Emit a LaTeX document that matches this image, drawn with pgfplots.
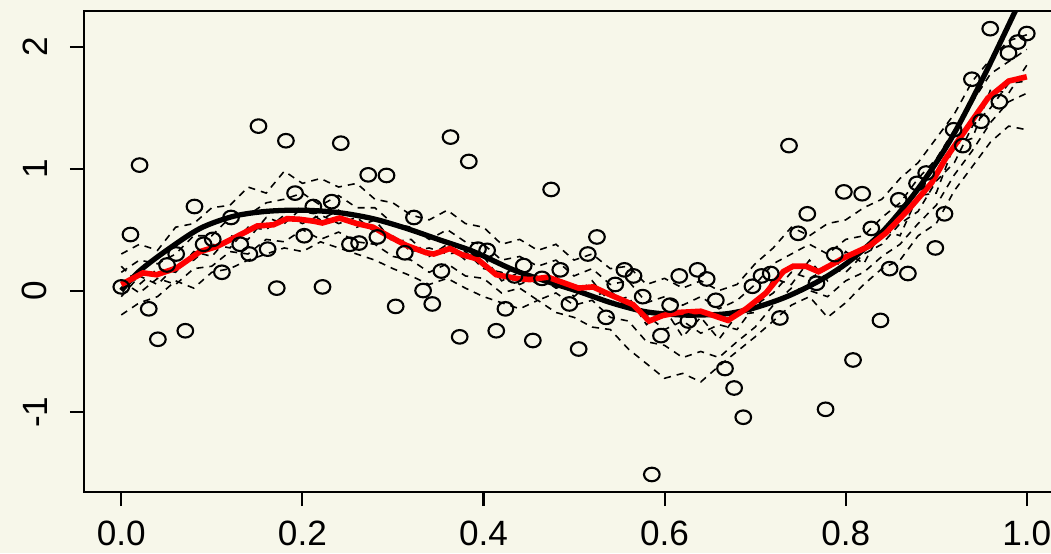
\documentclass[border=0pt]{standalone}
\usepackage{fontspec}
\setmainfont{Liberation Sans}
\usepackage{pgfplots}
\pgfplotsset{compat=1.18}
\definecolor{bgc}{RGB}{247,247,234}
\definecolor{rred}{RGB}{255,0,0}

\begin{document}
\begin{tikzpicture}
\useasboundingbox (0,0) rectangle (105.1mm,55.3mm);
\fill[bgc] (0,0) rectangle (105.1mm,55.3mm);
\begin{axis}[
    at={(8.4mm,6.1mm)}, anchor=south west,
    scale only axis,
    width=97.9mm, height=48.1mm,
    xmin=-0.0412, xmax=1.04,
    ymin=-1.654, ymax=2.295,
    axis line style={line width=0.6pt},
    tick align=outside, tick pos=left,
    major tick length=1.4mm,
    every tick/.style={black, line width=0.6pt},
    xtick={0,0.2,0.4,0.6,0.8,1.0},
    ytick={-1,0,1,2},
    /pgf/number format/assume math mode=true,
    tick label style={font=\fontsize{10}{12}\selectfont},
    xticklabel style={/pgf/number format/.cd, fixed, fixed zerofill, precision=1},
    xticklabel shift=0.3mm,
    yticklabel style={rotate=90, anchor=south, inner sep=0pt},
    yticklabel shift=2.2mm,
    dashline/.style={black, line width=0.45pt, dash pattern=on 2pt off 1.7pt},
]
% bootstrap-like dashed curves
\addplot[dashline] table {
0.00 0.30
0.02 0.38
0.04 0.33
0.06 0.52
0.08 0.55
0.10 0.68
0.12 0.70
0.14 0.85
0.16 0.80
0.18 0.98
0.20 0.88
0.22 0.92
0.24 0.85
0.26 0.88
0.28 0.75
0.30 0.72
0.32 0.62
0.34 0.58
0.36 0.66
0.38 0.55
0.40 0.52
0.42 0.38
0.44 0.42
0.46 0.33
0.48 0.38
0.50 0.25
0.52 0.30
0.54 0.18
0.56 0.20
0.58 0.05
0.60 0.10
0.62 0.02
0.64 0.08
0.66 0.00
0.68 0.05
0.70 0.22
0.72 0.35
0.74 0.52
0.76 0.45
0.78 0.55
0.80 0.58
0.82 0.68
0.84 0.75
0.86 0.92
0.88 1.05
0.90 1.25
0.92 1.45
0.94 1.72
0.96 1.90
0.98 2.05
1.00 2.10
};
\addplot[dashline] table {
0.00 0.15
0.02 0.25
0.04 0.22
0.06 0.30
0.08 0.45
0.10 0.45
0.12 0.60
0.14 0.62
0.16 0.72
0.18 0.75
0.20 0.80
0.22 0.70
0.24 0.78
0.26 0.68
0.28 0.68
0.30 0.55
0.32 0.52
0.34 0.42
0.36 0.50
0.38 0.40
0.40 0.38
0.42 0.25
0.44 0.28
0.46 0.20
0.48 0.25
0.50 0.12
0.52 0.18
0.54 0.05
0.56 0.08
0.58 -0.10
0.60 -0.05
0.62 -0.12
0.64 -0.05
0.66 -0.15
0.68 -0.08
0.70 0.05
0.72 0.22
0.74 0.30
0.76 0.38
0.78 0.30
0.80 0.42
0.82 0.45
0.84 0.60
0.86 0.72
0.88 0.92
0.90 1.08
0.92 1.32
0.94 1.55
0.96 1.78
0.98 1.88
1.00 1.98
};
\addplot[dashline] table {
0.00 -0.05
0.02 0.12
0.04 0.05
0.06 0.20
0.08 0.25
0.10 0.38
0.12 0.35
0.14 0.52
0.16 0.50
0.18 0.62
0.20 0.55
0.22 0.62
0.24 0.55
0.26 0.60
0.28 0.48
0.30 0.45
0.32 0.32
0.34 0.35
0.36 0.30
0.38 0.32
0.40 0.18
0.42 0.15
0.44 0.05
0.46 0.12
0.48 0.02
0.50 0.05
0.52 -0.05
0.54 0.00
0.56 -0.15
0.58 -0.20
0.60 -0.32
0.62 -0.25
0.64 -0.35
0.66 -0.28
0.68 -0.32
0.70 -0.12
0.72 -0.02
0.74 0.15
0.76 0.10
0.78 0.18
0.80 0.15
0.82 0.30
0.84 0.38
0.86 0.55
0.88 0.65
0.90 0.90
0.92 1.05
0.94 1.35
0.96 1.50
0.98 1.70
1.00 1.72
};
\addplot[dashline] table {
0.00 0.08
0.02 -0.02
0.04 0.10
0.06 0.05
0.08 0.18
0.10 0.20
0.12 0.32
0.14 0.30
0.16 0.42
0.18 0.40
0.20 0.50
0.22 0.42
0.24 0.48
0.26 0.40
0.28 0.38
0.30 0.28
0.32 0.25
0.34 0.15
0.36 0.22
0.38 0.12
0.40 0.10
0.42 -0.02
0.44 0.02
0.46 -0.08
0.48 -0.02
0.50 -0.12
0.52 -0.08
0.54 -0.22
0.56 -0.25
0.58 -0.42
0.60 -0.45
0.62 -0.55
0.64 -0.50
0.66 -0.55
0.68 -0.42
0.70 -0.30
0.72 -0.12
0.74 0.02
0.76 0.00
0.78 -0.05
0.80 0.08
0.82 0.15
0.84 0.28
0.86 0.38
0.88 0.55
0.90 0.70
0.92 0.95
0.94 1.15
0.96 1.38
0.98 1.55
1.00 1.62
};
\addplot[dashline] table {
0.00 -0.20
0.02 -0.10
0.04 -0.05
0.06 0.08
0.08 0.02
0.10 0.15
0.12 0.18
0.14 0.25
0.16 0.30
0.18 0.35
0.20 0.32
0.22 0.40
0.24 0.35
0.26 0.30
0.28 0.25
0.30 0.18
0.32 0.12
0.34 0.05
0.36 0.10
0.38 0.02
0.40 -0.05
0.42 -0.10
0.44 -0.15
0.46 -0.08
0.48 -0.18
0.50 -0.22
0.52 -0.30
0.54 -0.32
0.56 -0.48
0.58 -0.60
0.60 -0.72
0.62 -0.68
0.64 -0.75
0.66 -0.62
0.68 -0.50
0.70 -0.38
0.72 -0.25
0.74 -0.12
0.76 -0.05
0.78 -0.22
0.80 -0.10
0.82 0.05
0.84 0.18
0.86 0.25
0.88 0.45
0.90 0.55
0.92 0.82
0.94 1.02
0.96 1.22
0.98 1.35
1.00 1.32
};
\addplot[dashline] table {
0.00 0.20
0.02 0.05
0.04 0.18
0.06 0.15
0.08 0.32
0.10 0.28
0.12 0.45
0.14 0.42
0.16 0.60
0.18 0.55
0.20 0.68
0.22 0.58
0.24 0.66
0.26 0.52
0.28 0.58
0.30 0.40
0.32 0.42
0.34 0.28
0.36 0.38
0.38 0.25
0.40 0.28
0.42 0.08
0.44 0.15
0.46 0.05
0.48 0.12
0.50 -0.05
0.52 0.08
0.54 -0.10
0.56 -0.05
0.58 -0.28
0.60 -0.15
0.62 -0.38
0.64 -0.22
0.66 -0.40
0.68 -0.20
0.70 -0.18
0.72 0.10
0.74 0.05
0.76 0.25
0.78 0.08
0.80 0.32
0.82 0.22
0.84 0.50
0.86 0.45
0.88 0.78
0.90 0.80
0.92 1.20
0.94 1.25
0.96 1.65
0.98 1.62
1.00 1.85
};
% observations
\addplot[only marks, mark=o, mark size=0.68mm, mark options={line width=0.6pt, xscale=1.15}] table {
0.0000 0.03
0.0101 0.46
0.0202 1.03
0.0303 -0.15
0.0404 -0.40
0.0505 0.21
0.0606 0.30
0.0707 -0.33
0.0808 0.69
0.0909 0.38
0.1010 0.42
0.1111 0.15
0.1212 0.60
0.1313 0.38
0.1414 0.30
0.1515 1.35
0.1616 0.34
0.1717 0.02
0.1818 1.23
0.1919 0.80
0.2020 0.45
0.2121 0.69
0.2222 0.03
0.2323 0.73
0.2424 1.21
0.2525 0.38
0.2626 0.39
0.2727 0.95
0.2828 0.44
0.2929 0.945
0.3030 -0.13
0.3131 0.31
0.3232 0.60
0.3333 0.00
0.3434 -0.11
0.3535 0.16
0.3636 1.26
0.3737 -0.38
0.3838 1.06
0.3939 0.34
0.4040 0.33
0.4141 -0.33
0.4242 -0.15
0.4343 0.12
0.4444 0.205
0.4545 -0.41
0.4646 0.10
0.4747 0.83
0.4848 0.17
0.4949 -0.11
0.5051 -0.48
0.5152 0.30
0.5253 0.44
0.5354 -0.22
0.5455 0.05
0.5556 0.17
0.5657 0.12
0.5758 -0.05
0.5859 -1.51
0.5960 -0.37
0.6061 -0.12
0.6162 0.12
0.6263 -0.25
0.6364 0.17
0.6465 0.095
0.6566 -0.08
0.6667 -0.64
0.6768 -0.80
0.6869 -1.04
0.6970 0.035
0.7071 0.12
0.7172 0.14
0.7273 -0.225
0.7374 1.19
0.7475 0.47
0.7576 0.63
0.7677 0.06
0.7778 -0.975
0.7879 0.295
0.7980 0.81
0.8081 -0.57
0.8182 0.795
0.8283 0.51
0.8384 -0.245
0.8485 0.18
0.8586 0.745
0.8687 0.14
0.8788 0.88
0.8889 0.965
0.8990 0.35
0.9091 0.63
0.9192 1.32
0.9293 1.19
0.9394 1.735
0.9495 1.39
0.9596 2.15
0.9697 1.55
0.9798 1.95
0.9899 2.04
1.0000 2.11
};
% true function
\addplot[black, line width=1.5pt, smooth] table {
0 0.0
0.02 0.16
0.05 0.33
0.087 0.51
0.124 0.61
0.16 0.65
0.2 0.66
0.24 0.64
0.278 0.59
0.315 0.51
0.352 0.415
0.389 0.32
0.433 0.17
0.47 0.075
0.506 -0.01
0.543 -0.105
0.58 -0.175
0.617 -0.2
0.643 -0.2
0.669 -0.19
0.698 -0.145
0.735 -0.05
0.772 0.085
0.805 0.246
0.8415 0.49
0.8784 0.82
0.9152 1.23
0.952 1.75
0.987 2.29
1.0 2.49
};
% estimate
\addplot[rred, line width=1.6pt] table {
0.0 0.05
0.024 0.145
0.039 0.13
0.061 0.185
0.087 0.32
0.105 0.36
0.124 0.43
0.15 0.53
0.168 0.54
0.183 0.59
0.197 0.585
0.212 0.57
0.222 0.555
0.241 0.595
0.26 0.55
0.278 0.52
0.297 0.44
0.315 0.37
0.337 0.31
0.345 0.30
0.363 0.345
0.376 0.295
0.393 0.26
0.414 0.13
0.436 0.10
0.451 0.09
0.471 0.11
0.505 0.02
0.521 0.03
0.54 -0.035
0.565 -0.115
0.583 -0.25
0.598 -0.205
0.615 -0.18
0.64 -0.17
0.67 -0.245
0.69 -0.15
0.712 -0.02
0.731 0.155
0.742 0.2
0.756 0.2
0.77 0.155
0.785 0.215
0.797 0.265
0.826 0.365
0.844 0.47
0.87 0.67
0.895 0.885
0.91 1.08
0.925 1.24
0.94 1.40
0.957 1.58
0.98 1.72
1.0 1.755
};
\end{axis}
\end{tikzpicture}
\end{document}
